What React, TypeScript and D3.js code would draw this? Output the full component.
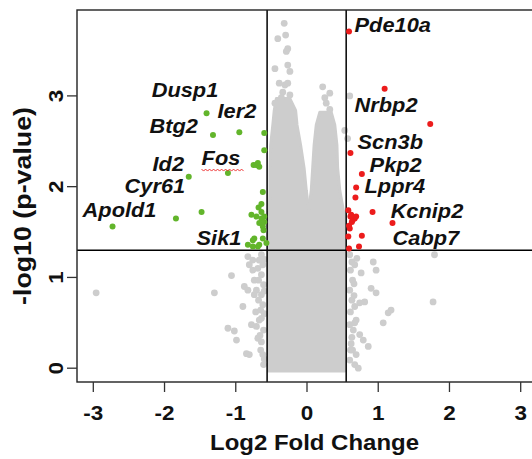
import React from 'react';
import * as d3 from 'd3';

const xTicks = [-3, -2, -1, 0, 1, 2, 3];
const yTicks = [0, 1, 2, 3];
const foldCutoffs = [-0.56, 0.55];
const pCutoff = 1.3;

type Pt = [number, number];

const greenPoints: Pt[] = [
  [-1.41, 2.81], [-1.32, 2.57], [-0.95, 2.6], [-0.6, 2.59], [-0.6, 2.4], [-0.71, 2.24],
  [-0.67, 2.22], [-0.69, 2.26], [-0.75, 2.24], [-1.11, 2.15], [-1.66, 2.11], [-0.62, 1.94],
  [-0.64, 1.81], [-1.48, 1.72], [-1.84, 1.65], [-2.73, 1.56], [-0.78, 1.69], [-0.71, 1.67],
  [-0.64, 1.65], [-0.6, 1.67], [-0.67, 1.6], [-0.62, 1.56], [-0.6, 1.61], [-0.74, 1.43],
  [-0.62, 1.43], [-0.83, 1.36], [-0.76, 1.34], [-0.67, 1.36], [-0.57, 1.38], [-0.76, 1.41],
  [-0.69, 1.34], [-0.64, 1.72], [-0.61, 1.52], [-0.68, 1.77],
];

const redPoints: Pt[] = [
  [0.59, 3.71], [1.09, 3.08], [1.73, 2.69], [0.61, 2.37], [0.77, 2.14], [0.69, 1.99],
  [0.68, 1.88], [0.92, 1.72], [1.2, 1.6], [0.62, 1.69], [0.67, 1.65], [0.64, 1.63],
  [0.61, 1.67], [0.69, 1.67], [0.6, 1.54], [0.59, 1.57], [0.77, 1.46], [0.58, 1.45],
  [0.73, 1.34], [0.59, 1.32], [0.63, 1.61], [0.58, 1.74],
];

const grayPoints: Pt[] = [
  // top of left lobe
  [-0.32, 3.8], [-0.41, 3.63], [-0.3, 3.67], [-0.27, 3.52], [-0.29, 3.49], [-0.27, 3.34],
  [-0.24, 3.27], [-0.45, 3.3], [-0.39, 3.14], [-0.31, 3.12], [-0.27, 3.14], [-0.45, 2.92],
  [-0.34, 3.04], [-0.24, 3.01], [-0.36, 2.98],
  // top of right lobe
  [0.22, 3.1], [0.32, 3.03], [0.25, 2.98], [0.27, 2.92], [0.32, 2.85], [0.6, 3.0],
  [0.57, 2.53], [0.53, 2.62],
  // left, below threshold
  [-1.06, 1.02], [-1.3, 0.83], [-2.96, 0.83], [-0.88, 0.9], [-0.83, 0.86], [-0.71, 0.86],
  [-0.74, 0.81], [-0.9, 0.68], [-0.78, 0.48], [-0.71, 0.46], [-1.11, 0.44], [-1.02, 0.41],
  [-0.99, 0.31], [-0.85, 0.16], [-0.81, 0.15], [-0.83, 1.23], [-0.76, 1.19], [-0.81, 1.14],
  [-0.76, 1.08], [-0.69, 1.1], [-0.74, 0.97], [-0.68, 0.75], [-0.72, 0.62], [-0.69, 0.33],
  [-0.64, 1.25], [-0.62, 1.14], [-0.64, 1.03], [-0.61, 0.92], [-0.64, 0.81], [-0.62, 0.7],
  [-0.64, 0.55], [-0.61, 0.42], [-0.64, 0.29], [-0.62, 0.15], [-0.61, 0.04], [-0.67, 1.19],
  [-0.68, 0.97], [-0.67, 0.53], [-0.65, 0.2], [-0.6, 1.2], [-0.6, 0.6], [-0.6, 0.1],
  [-0.66, 0.36], [-0.65, 0.64], [-0.6, 0.85],
  // right, below threshold
  [0.93, 1.17], [0.97, 1.08], [0.76, 1.05], [0.9, 0.88], [0.97, 0.83], [0.81, 0.73],
  [0.74, 0.72], [0.67, 0.68], [1.18, 0.64], [1.14, 0.61], [1.07, 0.5], [0.69, 0.53],
  [0.67, 0.5], [0.74, 0.37], [0.79, 0.31], [0.86, 0.24], [0.64, 0.2], [0.69, 0.15],
  [0.67, 0.04], [0.72, 0.0], [1.77, 0.73], [1.79, 1.25],
  [0.6, 1.25], [0.63, 1.17], [0.61, 1.08], [0.64, 0.97], [0.6, 0.86], [0.63, 0.75],
  [0.61, 0.62], [0.6, 0.48], [0.63, 0.34], [0.61, 0.2], [0.6, 0.09], [0.7, 1.21],
  [0.67, 1.14], [0.66, 0.93], [0.65, 0.42], [0.62, 0.27], [0.66, 0.8],
];

type Row = { y: number; x0: number; x1: number };
const cloudLeftLobe: Row[] = [
  { y: 2.97, x0: -0.43, x1: -0.24 },
  { y: 2.84, x0: -0.46, x1: -0.16 },
  { y: 2.68, x0: -0.48, x1: -0.14 },
  { y: 2.46, x0: -0.51, x1: -0.09 },
  { y: 2.2, x0: -0.52, x1: -0.04 },
  { y: 1.96, x0: -0.52, x1: -0.01 },
  { y: 1.7, x0: -0.53, x1: 0.03 },
];
const cloudRightLobe: Row[] = [
  { y: 2.82, x0: 0.18, x1: 0.34 },
  { y: 2.68, x0: 0.13, x1: 0.39 },
  { y: 2.46, x0: 0.1, x1: 0.42 },
  { y: 2.21, x0: 0.08, x1: 0.43 },
  { y: 1.96, x0: 0.06, x1: 0.46 },
  { y: 1.7, x0: 0.02, x1: 0.52 },
];
const cloudBase: Row[] = [
  { y: 1.72, x0: -0.54, x1: 0.53 },
  { y: -0.03, x0: -0.54, x1: 0.53 },
];

const geneLabels = [
  { name: 'Dusp1', x: -2.18, y: 2.986 },
  { name: 'Ier2', x: -1.256, y: 2.752 },
  { name: 'Btg2', x: -2.21, y: 2.587 },
  { name: 'Fos', x: -1.48, y: 2.238 },
  { name: 'Id2', x: -2.168, y: 2.172 },
  { name: 'Cyr61', x: -2.561, y: 1.93 },
  { name: 'Apold1', x: -3.15, y: 1.666 },
  { name: 'Sik1', x: -1.55, y: 1.357 },
  { name: 'Pde10a', x: 0.668, y: 3.704 },
  { name: 'Nrbp2', x: 0.668, y: 2.818 },
  { name: 'Scn3b', x: 0.71, y: 2.42 },
  { name: 'Pkp2', x: 0.879, y: 2.167 },
  { name: 'Lppr4', x: 0.808, y: 1.925 },
  { name: 'Kcnip2', x: 1.174, y: 1.66 },
  { name: 'Cabp7', x: 1.202, y: 1.357 },
];
const misspelledLabel = 'Fos';

const W = 532;
const H = 459;
const frame = { left: 77, top: 10, right: 570, bottom: 382 };
const FONT = "'Liberation Sans', Arial, Helvetica, sans-serif";
const GRAY = '#cdcdcd';
const GREEN = '#62b52b';
const RED = '#ec1c1c';

export default function App() {
  const xS = d3.scaleLinear().domain([-3, 3]).range([93.3, 520.7]);
  const yS = d3.scaleLinear().domain([0, 3]).range([368.2, 95.9]);

  const area = d3
    .area<Row>()
    .y((d) => yS(d.y))
    .x0((d) => xS(d.x0))
    .x1((d) => xS(d.x1));

  const cloudPaths = [cloudLeftLobe, cloudRightLobe, cloudBase].map((rows) => area(rows) || '');

  const fos = geneLabels.find((g) => g.name === misspelledLabel)!;
  const sqX0 = xS(fos.x);
  const sqY = yS(fos.y) + 4;
  const squiggle = d3
    .range(0, 22)
    .map((i) => `${i === 0 ? 'M' : 'L'}${sqX0 + i * 2},${sqY + (i % 2 === 0 ? 0 : 2)}`)
    .join(' ');

  return (
    <svg
      width={W}
      height={H}
      style={{ position: 'absolute', left: 0, top: 0, background: '#fff' }}
      fontFamily={FONT}
    >
      <defs>
        <clipPath id="plotClip">
          <rect x={frame.left} y={frame.top} width={frame.right - frame.left} height={frame.bottom - frame.top} />
        </clipPath>
      </defs>
      <g clipPath="url(#plotClip)">
        {cloudPaths.map((p, i) => (
          <path key={i} d={p} fill={GRAY} stroke={GRAY} strokeWidth={3} strokeLinejoin="round" />
        ))}
        {grayPoints.map((d, i) => (
          <circle key={'g' + i} cx={xS(d[0])} cy={yS(d[1])} r={3.4} fill={GRAY} />
        ))}
        {foldCutoffs.map((c) => (
          <line key={c} x1={xS(c)} x2={xS(c)} y1={frame.top} y2={frame.bottom} stroke="#000" strokeWidth={1.5} />
        ))}
        <line x1={frame.left} x2={frame.right} y1={yS(pCutoff)} y2={yS(pCutoff)} stroke="#000" strokeWidth={1.5} />
        {greenPoints.map((d, i) => (
          <circle key={'gr' + i} cx={xS(d[0])} cy={yS(d[1])} r={3} fill={GREEN} />
        ))}
        {redPoints.map((d, i) => (
          <circle key={'r' + i} cx={xS(d[0])} cy={yS(d[1])} r={3} fill={RED} />
        ))}
      </g>
      <rect
        x={frame.left}
        y={frame.top}
        width={frame.right - frame.left}
        height={frame.bottom - frame.top}
        fill="none"
        stroke="#222"
        strokeWidth={1.4}
      />
      {xTicks.map((t) => (
        <g key={'xt' + t}>
          <line x1={xS(t)} x2={xS(t)} y1={frame.bottom} y2={frame.bottom + 10} stroke="#333" strokeWidth={1.3} />
          <text
            transform={`translate(${xS(t)},420) scale(1.07,1)`}
            textAnchor="middle"
            fontSize={21}
            fontWeight="bold"
            fill="#111"
          >
            {t}
          </text>
        </g>
      ))}
      {yTicks.map((t) => (
        <g key={'yt' + t}>
          <line x1={frame.left - 10} x2={frame.left} y1={yS(t)} y2={yS(t)} stroke="#333" strokeWidth={1.3} />
          <text
            transform={`translate(63,${yS(t)}) rotate(-90) scale(1.07,1)`}
            textAnchor="middle"
            fontSize={21}
            fontWeight="bold"
            fill="#111"
          >
            {t}
          </text>
        </g>
      ))}
      <text
        x={314.5}
        y={450}
        textAnchor="middle"
        fontSize={22}
        fontWeight="bold"
        fill="#111"
        textLength={209}
        lengthAdjust="spacingAndGlyphs"
      >
        Log2 Fold Change
      </text>
      <text
        transform="translate(31,206) rotate(-90)"
        textAnchor="middle"
        fontSize={23}
        fontWeight="bold"
        fill="#111"
        textLength={198}
        lengthAdjust="spacingAndGlyphs"
      >
        -log10 (p-value)
      </text>
      {geneLabels.map((g) => (
        <text
          key={g.name}
          transform={`translate(${xS(g.x)},${yS(g.y)}) scale(1.09,1)`}
          fontSize={20}
          fontWeight="bold"
          fontStyle="italic"
          fill="#111"
        >
          {g.name}
        </text>
      ))}
      <path d={squiggle} fill="none" stroke="#e33" strokeWidth={1} />
    </svg>
  );
}
